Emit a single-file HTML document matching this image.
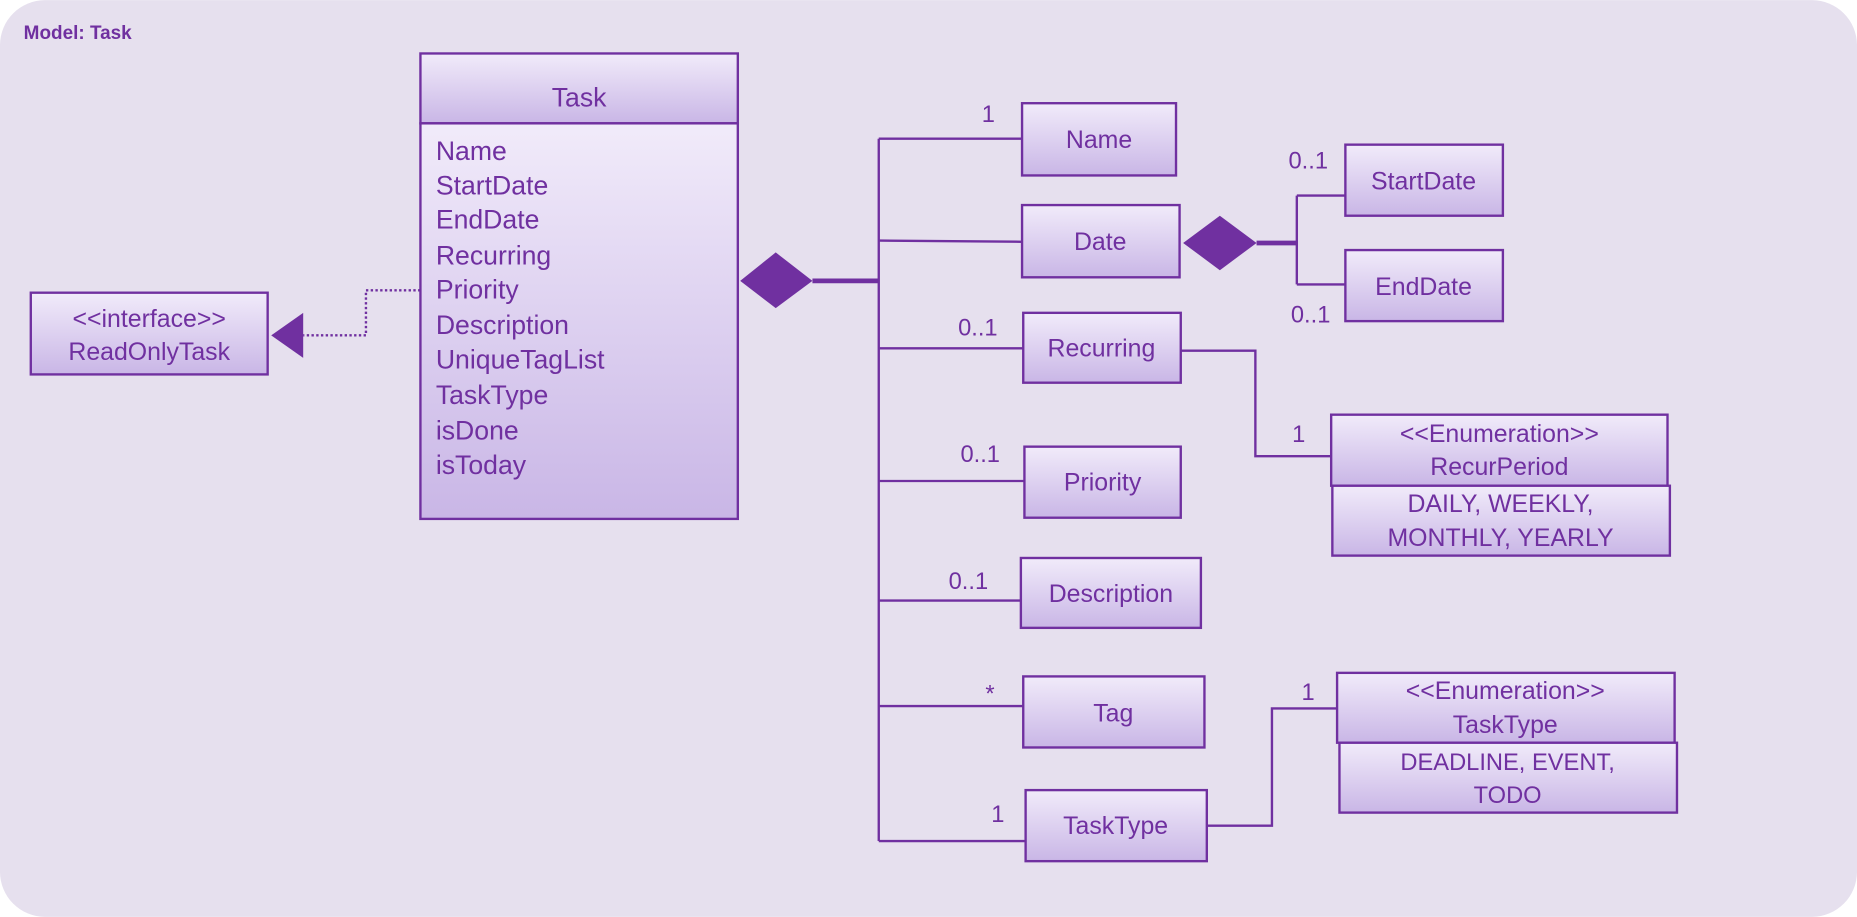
<!DOCTYPE html>
<html><head><meta charset="utf-8"><style>
html,body{margin:0;padding:0;background:#fff;}
svg{display:block;}
text{font-family:"Liberation Sans",sans-serif;fill:#7030a0;}
</style></head><body>
<svg width="1857" height="917" viewBox="0 0 1568 774" xmlns="http://www.w3.org/2000/svg">
<defs>
<linearGradient id="g" x1="0" y1="0" x2="0" y2="1">
<stop offset="0" stop-color="#f1ebfa"/><stop offset="1" stop-color="#c9b6e6"/>
</linearGradient>
</defs>
<rect x="0" y="0" width="1568" height="774" rx="38" fill="#e6e0ee"/>
<text x="20" y="33" font-size="16" font-weight="bold">Model: Task</text>
<g stroke="#7030a0" stroke-width="2" fill="url(#g)">
<rect x="355" y="45" width="268" height="59"/>
<rect x="355" y="104" width="268" height="334"/>
<rect x="26" y="247" width="200" height="69"/>
<rect x="863" y="87" width="130" height="61"/>
<rect x="863" y="173" width="133" height="61"/>
<rect x="864" y="264" width="133" height="59"/>
<rect x="865" y="377" width="132" height="60"/>
<rect x="862" y="471" width="152" height="59"/>
<rect x="864" y="571" width="153" height="60"/>
<rect x="866" y="667" width="153" height="60"/>
<rect x="1136" y="122" width="133" height="60"/>
<rect x="1136" y="211" width="133" height="60"/>
<rect x="1124" y="350" width="284" height="60"/>
<rect x="1125" y="410" width="285" height="59"/>
<rect x="1129" y="568" width="285" height="59"/>
<rect x="1131" y="627" width="285" height="59"/>
</g>
<g stroke="#7030a0" stroke-width="2" fill="none">
<polyline points="355,245 309,245 309,283 256,283" stroke-dasharray="2,2"/>
<line x1="742" y1="117" x2="742" y2="710"/>
<line x1="742" y1="117" x2="863" y2="117"/>
<line x1="742" y1="203" x2="863" y2="204"/>
<line x1="742" y1="294" x2="864" y2="294"/>
<line x1="742" y1="406" x2="865" y2="406"/>
<line x1="742" y1="507" x2="862" y2="507"/>
<line x1="742" y1="596" x2="864" y2="596"/>
<line x1="742" y1="710" x2="866" y2="710"/>
<line x1="686" y1="237" x2="742" y2="237" stroke-width="4"/>
<line x1="1061" y1="205" x2="1095" y2="205" stroke-width="4"/>
<line x1="1095" y1="165" x2="1095" y2="240"/>
<line x1="1095" y1="165" x2="1136" y2="165"/>
<line x1="1095" y1="240" x2="1136" y2="240"/>
<polyline points="997,296 1060,296 1060,385 1124,385"/>
<polyline points="1019,697 1074,697 1074,598 1129,598"/>
</g>
<g fill="#7030a0">
<polygon points="229,283 256,264 256,302"/>
<polygon points="625,237 655,213 686,237 655,260"/>
<polygon points="999,205 1030,182 1061,205 1030,228"/>
</g>
<g font-size="22.5">
<text x="489" y="90" text-anchor="middle">Task</text>
<text x="368" y="135">Name</text>
<text x="368" y="164">StartDate</text>
<text x="368" y="193">EndDate</text>
<text x="368" y="223">Recurring</text>
<text x="368" y="252">Priority</text>
<text x="368" y="282">Description</text>
<text x="368" y="311">UniqueTagList</text>
<text x="368" y="341">TaskType</text>
<text x="368" y="371">isDone</text>
<text x="368" y="400">isToday</text>
</g>
<g font-size="21" text-anchor="middle">
<text x="126" y="276">&lt;&lt;interface&gt;&gt;</text>
<text x="126" y="304">ReadOnlyTask</text>
<text x="928" y="125">Name</text>
<text x="929" y="211">Date</text>
<text x="930" y="301">Recurring</text>
<text x="931" y="414">Priority</text>
<text x="938" y="508">Description</text>
<text x="940" y="609">Tag</text>
<text x="942" y="704">TaskType</text>
<text x="1202" y="160">StartDate</text>
<text x="1202" y="249">EndDate</text>
<text x="1266" y="373">&lt;&lt;Enumeration&gt;&gt;</text>
<text x="1266" y="401">RecurPeriod</text>
<text x="1267" y="432">DAILY, WEEKLY,</text>
<text x="1267" y="461">MONTHLY, YEARLY</text>
<text x="1271" y="590">&lt;&lt;Enumeration&gt;&gt;</text>
<text x="1271" y="619">TaskType</text>
</g>
<g font-size="20" text-anchor="middle">
<text x="1273" y="650">DEADLINE, EVENT,</text>
<text x="1273" y="678">TODO</text>
</g>
<g font-size="20">
<text x="829" y="103">1</text>
<text x="809" y="283">0..1</text>
<text x="811" y="390">0..1</text>
<text x="801" y="497">0..1</text>
<text x="832" y="592">*</text>
<text x="837" y="694">1</text>
<text x="1088" y="142">0..1</text>
<text x="1090" y="272">0..1</text>
<text x="1091" y="373">1</text>
<text x="1099" y="591">1</text>
</g>
</svg>
</body></html>
